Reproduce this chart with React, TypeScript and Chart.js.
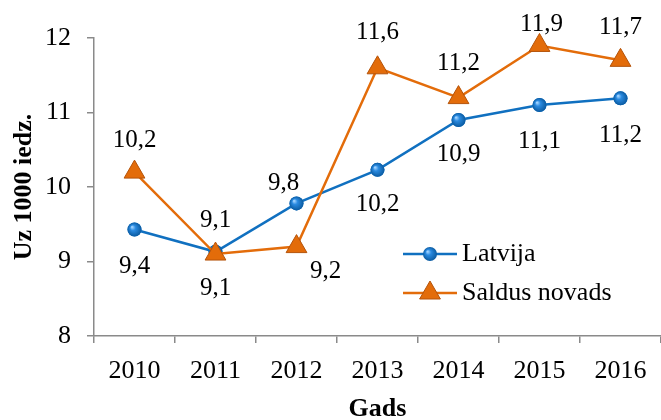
import React, { useEffect, useRef } from "react";
import { Chart, registerables } from "chart.js";

Chart.register(...registerables);

const categories = ["2010", "2011", "2012", "2013", "2014", "2015", "2016"];
const latvija = [9.43, 9.13, 9.78, 10.23, 10.9, 11.1, 11.19];
const saldus = [10.2, 9.1, 9.2, 11.6, 11.2, 11.9, 11.7];
const seriesNames = ["Latvija", "Saldus novads"];
const yTitle = "Uz 1000 iedz.";
const xTitle = "Gads";

// label placement offsets (dx, dy) relative to each point
const latvijaLabelOffsets = [[0, 37], [0, -31], [-13, -20], [0, 35], [0, 34], [0, 36], [0, 37]];
const saldusLabelOffsets = [[0, -32], [0, 34], [29, 25], [0, -35], [0, -34], [2, -21], [0, -33]];

const BLUE = "#1070C0";
const BLUE_DARK = "#0A5A9E";
const ORANGE = "#E36C0A";
const ORANGE_DARK = "#B4530A";
const AXIS = "#8a8a8a";
const FONT = "'Liberation Serif', 'Times New Roman', serif";

const fmt = (v: number) => v.toFixed(1).replace(".", ",");

export default function App() {
  const ref = useRef<HTMLCanvasElement | null>(null);

  useEffect(() => {
    document.body.style.margin = "0";
    const canvas = ref.current;
    if (!canvas) return;

    const labelsPlugin = {
      id: "valueLabels",
      afterDatasetsDraw(chart: any) {
        const ctx = chart.ctx;
        ctx.save();
        ctx.font = `25px ${FONT}`;
        ctx.fillStyle = "#000";
        ctx.textAlign = "center";
        ctx.textBaseline = "middle";
        const offs = [latvijaLabelOffsets, saldusLabelOffsets];
        chart.data.datasets.forEach((ds: any, di: number) => {
          const meta = chart.getDatasetMeta(di);
          meta.data.forEach((pt: any, i: number) => {
            const [dx, dy] = offs[di][i];
            ctx.fillText(fmt(ds.data[i]), pt.x + dx, pt.y + dy);
          });
        });
        ctx.restore();
      },
    };

    const shinePlugin = {
      id: "shine",
      afterDatasetDraw(chart: any, args: any) {
        if (args.index !== 0) return;
        const ctx = chart.ctx;
        const meta = chart.getDatasetMeta(0);
        ctx.save();
        meta.data.forEach((pt: any) => {
          const r = 7;
          const g = ctx.createRadialGradient(pt.x - 2.5, pt.y - 2.5, 0.5, pt.x, pt.y, r);
          g.addColorStop(0, "#9fd2ff");
          g.addColorStop(0.35, "#2a8ae0");
          g.addColorStop(1, "#0a5aa0");
          ctx.beginPath();
          ctx.arc(pt.x, pt.y, r, 0, Math.PI * 2);
          ctx.fillStyle = g;
          ctx.fill();
        });
        ctx.restore();
      },
    };

    const legendPlugin = {
      id: "customLegend",
      afterDraw(chart: any) {
        const ctx = chart.ctx;
        ctx.save();
        const x0 = 403, x1 = 457;
        const ys = [254, 293];
        const colors = [BLUE, ORANGE];
        ys.forEach((y, i) => {
          ctx.strokeStyle = colors[i];
          ctx.lineWidth = 2.5;
          ctx.beginPath();
          ctx.moveTo(x0, y);
          ctx.lineTo(x1, y);
          ctx.stroke();
          const cx = (x0 + x1) / 2;
          if (i === 0) {
            const g = ctx.createRadialGradient(cx - 2.5, y - 2.5, 0.5, cx, y, 7);
            g.addColorStop(0, "#9fd2ff");
            g.addColorStop(0.35, "#2a8ae0");
            g.addColorStop(1, "#0a5aa0");
            ctx.beginPath();
            ctx.arc(cx, y, 7, 0, Math.PI * 2);
            ctx.fillStyle = g;
            ctx.fill();
          } else {
            ctx.beginPath();
            ctx.moveTo(cx, y - 12);
            ctx.lineTo(cx + 10.4, y + 6);
            ctx.lineTo(cx - 10.4, y + 6);
            ctx.closePath();
            ctx.fillStyle = ORANGE;
            ctx.fill();
            ctx.strokeStyle = ORANGE_DARK;
            ctx.lineWidth = 1;
            ctx.stroke();
          }
          ctx.fillStyle = "#000";
          ctx.font = `26px ${FONT}`;
          ctx.textAlign = "left";
          ctx.textBaseline = "middle";
          ctx.fillText(seriesNames[i], x1 + 5, y);
        });
        ctx.restore();
      },
    };

    const chart = new Chart(canvas, {
      type: "line",
      data: {
        labels: categories,
        datasets: [
          {
            label: seriesNames[0],
            data: latvija,
            borderColor: BLUE,
            borderWidth: 2.5,
            backgroundColor: BLUE,
            pointStyle: "circle",
            pointRadius: 7,
            pointBackgroundColor: "#1a7fd4",
            pointBorderColor: BLUE_DARK,
            pointBorderWidth: 0,
            tension: 0,
            order: 1,
            clip: false,
          },
          {
            label: seriesNames[1],
            data: saldus,
            borderColor: ORANGE,
            borderWidth: 2.5,
            backgroundColor: ORANGE,
            pointStyle: "triangle",
            pointRadius: 12,
            pointBackgroundColor: ORANGE,
            pointBorderColor: ORANGE_DARK,
            pointBorderWidth: 1,
            tension: 0,
            order: 0,
            clip: false,
          },
        ],
      },
      options: {
        animation: false,
        responsive: false,
        maintainAspectRatio: false,
        events: [],
        layout: { autoPadding: false, padding: { top: 38, right: 0, left: 0, bottom: 0 } },
        plugins: {
          legend: { display: false },
          tooltip: { enabled: false },
        },
        scales: {
          x: {
            offset: true,
            grid: {
              offset: true,
              drawOnChartArea: false,
              drawTicks: true,
              tickLength: 7,
              color: AXIS,
              lineWidth: 1.5,
            },
            border: { color: AXIS, width: 1.5 },
            ticks: {
              color: "#000",
              font: { family: FONT, size: 26 },
              padding: 13,
              maxRotation: 0,
            },
            title: {
              display: true,
              text: xTitle,
              color: "#000",
              font: { family: FONT, size: 26, weight: "bold" },
              padding: { top: 0, bottom: -5 },
            },
            afterFit(scale: any) {
              scale.height = 84;
              scale.paddingLeft = 0;
              scale.paddingRight = 0;
            },
          },
          y: {
            min: 8,
            max: 12,
            grid: {
              drawOnChartArea: false,
              drawTicks: true,
              tickLength: 7,
              color: AXIS,
              lineWidth: 1.5,
            },
            border: { color: AXIS, width: 1.5 },
            ticks: {
              stepSize: 1,
              color: "#000",
              font: { family: FONT, size: 26 },
              padding: 16,
            },
            title: {
              display: true,
              text: yTitle,
              color: "#000",
              font: { family: FONT, size: 26, weight: "bold" },
              padding: { top: 9, bottom: 0 },
            },
            afterFit(scale: any) {
              scale.width = 94;
              scale.paddingTop = 0;
              scale.paddingBottom = 0;
            },
          },
        },
      },
      plugins: [shinePlugin, labelsPlugin, legendPlugin],
    });

    return () => chart.destroy();
  }, []);

  return (
    <div style={{ width: 661, height: 420 }}>
      <canvas ref={ref} width={661} height={420} style={{ display: "block" }} />
    </div>
  );
}
